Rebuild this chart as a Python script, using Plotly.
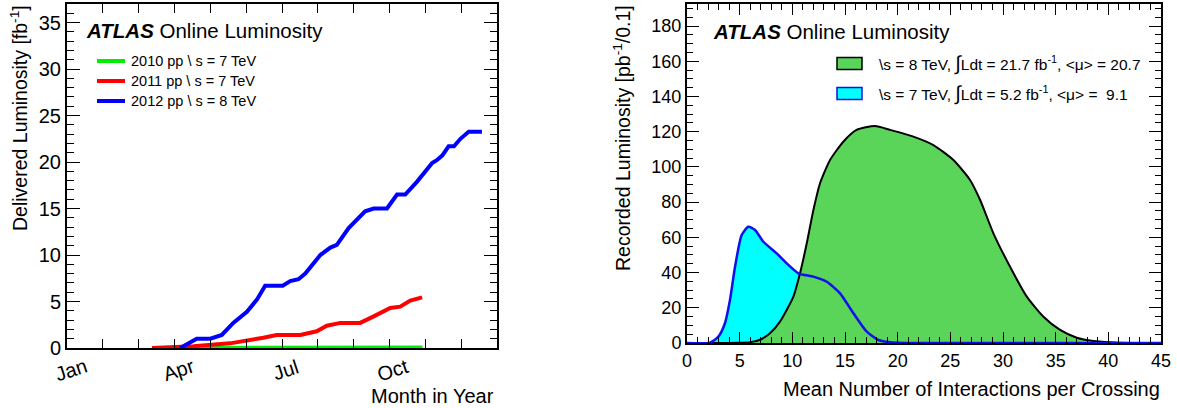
import plotly.graph_objects as go

# ---------------- data: left panel (delivered luminosity vs month) -------------
months_2010 = [2.97, 5.0, 7.0, 9.92]
lumi_2010 = [0.0, 0.01, 0.03, 0.05]

months_2011 = [2.37, 3.53, 4.55, 5.02, 5.48, 5.85, 6.51, 6.97, 7.25, 7.63, 8.18,
               8.56, 9.02, 9.30, 9.58, 9.91]
lumi_2011 = [0.0, 0.2, 0.5, 0.75, 1.1, 1.4, 1.4, 1.8, 2.4, 2.7, 2.7,
             3.4, 4.3, 4.45, 5.1, 5.45]

months_2012 = [3.16, 3.62, 4.0, 4.32, 4.64, 5.02, 5.30, 5.53, 6.02, 6.23, 6.46,
               6.65, 7.07, 7.35, 7.53, 7.86, 8.32, 8.56, 8.93, 9.21, 9.44, 9.77,
               10.19, 10.32, 10.47, 10.65, 10.8, 10.98, 11.21, 11.58]
lumi_2012 = [0.0, 1.0, 1.0, 1.4, 2.7, 3.9, 5.2, 6.7, 6.7, 7.2, 7.4,
             8.0, 10.0, 10.8, 11.1, 12.9, 14.7, 15.0, 15.0, 16.5, 16.5, 17.9,
             19.9, 20.2, 20.7, 21.7, 21.7, 22.5, 23.25, 23.25]

month_ticks = list(range(13))
month_labels = ["Jan", "Apr", "Jul", "Oct"]
month_label_pos = [0, 3, 6, 9]

series_names = ["2010 pp \\ s = 7 TeV", "2011 pp \\ s = 7 TeV", "2012 pp \\ s = 8 TeV"]

# ---------------- data: right panel (recorded luminosity vs mu) ---------------
mu_8tev = [0, 3, 5, 6.0, 7.0, 7.88, 8.83, 10.1, 10.73, 11.37, 12.0, 12.63, 13.58,
           14.84, 16.1, 17.85, 19.28, 21.49, 23.39, 25.29, 26.87, 27.83, 29.09,
           30.67, 32.26, 33.84, 35.42, 37.0, 38.59, 40.17, 42, 44, 45]
lumi_8tev = [0, 0, 0.1, 0.5, 2.0, 5.5, 12.1, 26.3, 39.6, 56.6, 75.5, 90.7, 103.9,
             114.3, 121.0, 123.2, 121.0, 117.2, 112.4, 103.9, 92.6, 81.2, 62.3,
             43.3, 26.3, 14.9, 7.4, 3.0, 1.1, 0.4, 0.0, 0.0, 0.0]

mu_7tev = [0, 2.18, 2.98, 3.6, 4.08, 4.56, 5.19, 5.82, 6.46, 7.25, 8.52, 9.47,
           10.57, 12.0, 13.27, 14.53, 15.8, 17.07, 18.17, 19.3, 21, 25, 35, 45]
lumi_7tev = [0, 0.2, 3.6, 11.2, 24.4, 43.3, 61.3, 66.0, 64.2, 57.5, 50.9, 45.2,
             39.6, 37.7, 34.8, 28.2, 16.9, 6.4, 1.7, 0.4, 0, 0, 0, 0]

INTEG = "<span style='font-size:20px'>\u222b</span>"
legend_8tev = "\\s = 8 TeV, " + INTEG + "Ldt = 21.7 fb<sup>-1</sup>, &lt;\u03bc&gt; = 20.7"
legend_7tev = "\\s = 7 TeV, " + INTEG + "Ldt = 5.2 fb<sup>-1</sup>, &lt;\u03bc&gt; =  9.1"

# ---------------- layout helpers ----------------
W, H = 1177, 408
FONT = "Liberation Sans, Arial, Helvetica, sans-serif"


def px(x):
    return x / W


def py(y):
    return 1 - y / H


fig = go.Figure()

# left panel traces
fig.add_trace(go.Scatter(x=months_2010, y=lumi_2010, mode="lines",
                         line=dict(color="#00ee00", width=4),
                         xaxis="x", yaxis="y", showlegend=False))
fig.add_trace(go.Scatter(x=months_2011, y=lumi_2011, mode="lines",
                         line=dict(color="#ff0000", width=4),
                         xaxis="x", yaxis="y", showlegend=False))
fig.add_trace(go.Scatter(x=months_2012, y=lumi_2012, mode="lines",
                         line=dict(color="#0000ff", width=4),
                         xaxis="x", yaxis="y", showlegend=False))

# right panel traces
fig.add_trace(go.Scatter(x=mu_7tev, y=lumi_7tev, mode="lines", fill="tozeroy",
                         fillcolor="#00ffff", line=dict(color="#00ffff", width=0.5,
                                                        shape="spline", smoothing=0.6),
                         xaxis="x2", yaxis="y2", showlegend=False))
fig.add_trace(go.Scatter(x=mu_8tev, y=lumi_8tev, mode="lines", fill="tozeroy",
                         fillcolor="#5ad55a", line=dict(color="black", width=2,
                                                        shape="spline", smoothing=0.6),
                         xaxis="x2", yaxis="y2", showlegend=False))
fig.add_trace(go.Scatter(x=mu_7tev, y=lumi_7tev, mode="lines",
                         line=dict(color="#1010ee", width=2.5,
                                   shape="spline", smoothing=0.6),
                         xaxis="x2", yaxis="y2", showlegend=False))

axis_common = dict(showline=True, linecolor="black", linewidth=2, mirror="ticks",
                   ticks="inside", tickcolor="black", showgrid=False, zeroline=False,
                   automargin=False)

fig.update_layout(
    width=W, height=H,
    margin=dict(l=0, r=0, t=0, b=0),
    paper_bgcolor="white", plot_bgcolor="white",
    font=dict(family=FONT, color="black"),
    xaxis=dict(domain=[px(67), px(497)], range=[0, 12], tickvals=month_ticks,
               showticklabels=False, ticklen=9, tickwidth=1, anchor="y",
               **axis_common),
    yaxis=dict(domain=[py(348), py(4)], range=[0, 37], dtick=5, ticklen=13,
               tickwidth=1, anchor="x",
               tickfont=dict(family=FONT, size=20, color="black"),
               minor=dict(ticks="inside", ticklen=7, dtick=1, tickcolor="black"),
               **axis_common),
    xaxis2=dict(domain=[px(687), px(1161)], range=[0, 45], dtick=5, ticklen=11,
                tickwidth=1, anchor="y2",
                tickfont=dict(family=FONT, size=18, color="black"),
                minor=dict(ticks="inside", ticklen=6, dtick=1, tickcolor="black"),
                **axis_common),
    yaxis2=dict(domain=[py(343), py(4)], range=[0, 192.5], dtick=20, ticklen=12,
                tickwidth=1, anchor="x2",
                tickfont=dict(family=FONT, size=18, color="black"),
                minor=dict(ticks="inside", ticklen=6, dtick=5, tickcolor="black"),
                **axis_common),
)

annotations = []
shapes = []

# month labels (rotated)
for lab, pos in zip(month_labels, month_label_pos):
    annotations.append(dict(text=lab, x=pos + 0.1, y=py(370), xref="x", yref="paper",
                            showarrow=False, textangle=-18, xanchor="center",
                            yanchor="middle", font=dict(size=20, family=FONT)))

# axis titles
annotations += [
    dict(text="Delivered Luminosity [fb<sup>-1</sup>]", x=px(19), y=py(3),
         xref="paper", yref="paper", showarrow=False, textangle=-90,
         xanchor="center", yanchor="top", font=dict(size=19.5, family=FONT)),
    dict(text="Month in Year", x=px(496), y=py(396), xref="paper", yref="paper",
         showarrow=False, xanchor="right", yanchor="middle",
         font=dict(size=20, family=FONT)),
    dict(text="Recorded Luminosity [pb<sup>-1</sup>/0.1]", x=px(622), y=py(3),
         xref="paper", yref="paper", showarrow=False, textangle=-90,
         xanchor="center", yanchor="top", font=dict(size=19.5, family=FONT)),
    dict(text="Mean Number of Interactions per Crossing", x=px(1162), y=py(389),
         xref="paper", yref="paper", showarrow=False, xanchor="right",
         yanchor="middle", font=dict(size=20, family=FONT)),
    dict(text="<b><i>ATLAS</i></b> Online Luminosity", x=px(84), y=py(31),
         xref="paper", yref="paper", showarrow=False, xanchor="left",
         yanchor="middle", font=dict(size=20.5, family=FONT)),
    dict(text="<b><i>ATLAS</i></b> Online Luminosity", x=px(711), y=py(32),
         xref="paper", yref="paper", showarrow=False, xanchor="left",
         yanchor="middle", font=dict(size=20.5, family=FONT)),
]

# left legend
leg_colors = ["#00ee00", "#ff0000", "#0000ff"]
leg_y = [61, 81, 101]
for name, col, yy in zip(series_names, leg_colors, leg_y):
    shapes.append(dict(type="line", xref="paper", yref="paper",
                       x0=px(97), x1=px(125), y0=py(yy), y1=py(yy),
                       line=dict(color=col, width=4)))
    annotations.append(dict(text=name, x=px(129), y=py(yy), xref="paper",
                            yref="paper", showarrow=False, xanchor="left",
                            yanchor="middle", font=dict(size=14.5, family=FONT)))

# right legend
for txt, fc, lc, yc in [(legend_8tev, "#5ad55a", "black", 63.5),
                        (legend_7tev, "#00ffff", "#1010ee", 93.5)]:
    shapes.append(dict(type="rect", xref="paper", yref="paper",
                       x0=px(837), x1=px(862), y0=py(yc + 6), y1=py(yc - 6),
                       fillcolor=fc, line=dict(color=lc, width=1.5)))
    annotations.append(dict(text=txt, x=px(877), y=py(yc), xref="paper",
                            yref="paper", showarrow=False, xanchor="left",
                            yanchor="middle", font=dict(size=15.5, family=FONT)))

fig.update_layout(annotations=annotations, shapes=shapes)

fig.write_html("out.html",
               post_script="document.body.style.margin='0';"
                           "document.body.style.overflow='hidden';")
